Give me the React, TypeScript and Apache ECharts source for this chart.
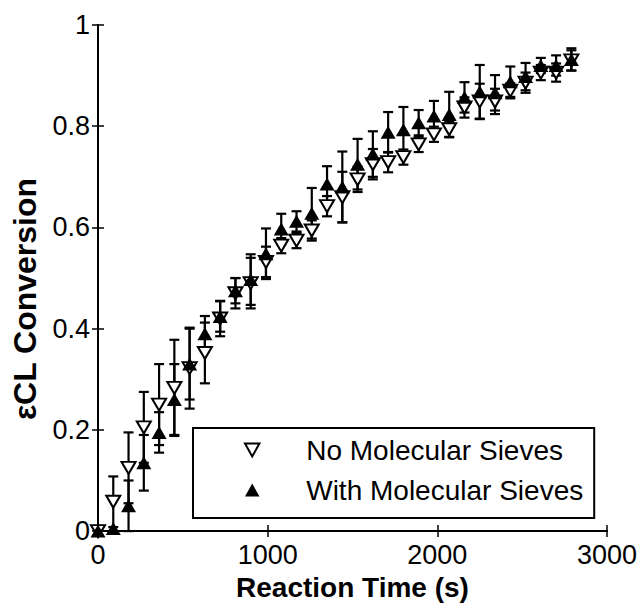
import React, { useEffect, useRef } from "react";
import * as echarts from "echarts";

const times = [0, 90, 180, 270, 360, 450, 540, 630, 720, 810, 900, 990, 1080, 1170, 1260, 1350, 1440, 1530, 1620, 1710, 1800, 1890, 1980, 2070, 2160, 2250, 2340, 2430, 2520, 2610, 2700, 2790];

const noSieves = [0, 0.058, 0.125, 0.205, 0.25, 0.283, 0.322, 0.352, 0.42, 0.47, 0.49, 0.532, 0.564, 0.574, 0.594, 0.642, 0.66, 0.695, 0.725, 0.729, 0.739, 0.764, 0.784, 0.794, 0.837, 0.849, 0.849, 0.87, 0.886, 0.906, 0.906, 0.93];
const noSievesErr = [0, 0.05, 0.07, 0.07, 0.08, 0.095, 0.08, 0.06, 0.035, 0.03, 0.05, 0.03, 0.015, 0.015, 0.02, 0.02, 0.05, 0.025, 0.03, 0.02, 0.015, 0.015, 0.015, 0.015, 0.02, 0.035, 0.025, 0.015, 0.02, 0.015, 0.018, 0.02];

const withSieves = [0, 0.005, 0.05, 0.135, 0.195, 0.26, 0.33, 0.39, 0.424, 0.475, 0.497, 0.548, 0.597, 0.612, 0.628, 0.686, 0.68, 0.725, 0.745, 0.788, 0.793, 0.807, 0.82, 0.823, 0.857, 0.868, 0.866, 0.888, 0.898, 0.92, 0.92, 0.932];
const withSievesErr = [0, 0, 0.05, 0.055, 0.04, 0.07, 0.07, 0.035, 0.03, 0.025, 0.05, 0.05, 0.03, 0.02, 0.05, 0.035, 0.07, 0.05, 0.045, 0.04, 0.045, 0.025, 0.03, 0.045, 0.03, 0.053, 0.035, 0.03, 0.027, 0.015, 0.02, 0.022];

const xTicks = { min: 0, max: 3000, interval: 1000 };
const yTicks = { min: 0, max: 1, interval: 0.2 };

const seriesNames = ["No Molecular Sieves", "With Molecular Sieves"];
const xTitle = "Reaction Time (s)";
const yTitle = "εCL Conversion";

const FONT = "'Liberation Sans', Arial, Helvetica, sans-serif";
const DOWN_TRI = "path://M0,0 L10,0 L5,9 Z";
const UP_TRI = "path://M5,0 L10,9 L0,9 Z";

function errData(vals: number[], errs: number[]) {
  return times.map((t, i) => [t, vals[i] - errs[i], vals[i] + errs[i], errs[i]]);
}

function renderErr(params: any, api: any) {
  const e = api.value(3);
  if (!e) return null;
  const x = api.value(0);
  const top = api.coord([x, api.value(2)]);
  const bot = api.coord([x, api.value(1)]);
  const hw = 5;
  const st = { stroke: "#000", lineWidth: 2.2 };
  return {
    type: "group",
    children: [
      { type: "line", shape: { x1: top[0], y1: top[1], x2: bot[0], y2: bot[1] }, style: st },
      { type: "line", shape: { x1: top[0] - hw, y1: top[1], x2: top[0] + hw, y2: top[1] }, style: st },
      { type: "line", shape: { x1: bot[0] - hw, y1: bot[1], x2: bot[0] + hw, y2: bot[1] }, style: st },
    ],
  };
}

export default function App() {
  const ref = useRef<HTMLDivElement>(null);
  useEffect(() => {
    if (!ref.current) return;
    const chart = echarts.init(ref.current, null, { renderer: "svg" });
    const axisLine = { show: true, lineStyle: { color: "#000", width: 2 } };
    const tick = { show: true, inside: true, length: 6, lineStyle: { color: "#000", width: 1.5 } };
    const fmt = (v: number) => String(v);
    const option: any = {
      animation: false,
      backgroundColor: "#fff",
      textStyle: { fontFamily: FONT },
      grid: { left: 98, right: 34, top: 25, bottom: 73 },
      xAxis: [
        {
          type: "value",
          ...xTicks,
          position: "bottom",
          axisLine,
          axisTick: tick,
          splitLine: { show: false },
          axisLabel: { color: "#000", fontSize: 27, fontFamily: FONT, margin: 10, formatter: fmt },
          name: xTitle,
          nameLocation: "middle",
          nameGap: 41,
          nameTextStyle: { color: "#000", fontSize: 28, fontWeight: "bold", fontFamily: FONT },
        },
        {
          type: "value",
          ...xTicks,
          position: "top",
          axisLine,
          axisTick: tick,
          splitLine: { show: false },
          axisLabel: { show: false },
        },
      ],
      yAxis: [
        {
          type: "value",
          ...yTicks,
          position: "left",
          axisLine,
          axisTick: tick,
          splitLine: { show: false },
          axisLabel: { color: "#000", fontSize: 27, fontFamily: FONT, margin: 8, formatter: fmt },
        },
        {
          type: "value",
          ...yTicks,
          position: "right",
          axisLine,
          axisTick: tick,
          splitLine: { show: false },
          axisLabel: { show: false },
        },
      ],
      graphic: [
        {
          type: "text",
          x: 25,
          y: 299,
          rotation: Math.PI / 2,
          style: {
            text: yTitle,
            font: `bold 32px ${FONT}`,
            fill: "#000",
            textAlign: "center",
            textVerticalAlign: "middle",
          },
        },
      ],
      legend: {
        data: [
          { name: seriesNames[0], icon: DOWN_TRI, itemStyle: { color: "#fff", borderColor: "#000", borderWidth: 2 } },
          { name: seriesNames[1], icon: UP_TRI, itemStyle: { color: "#000", borderColor: "#000", borderWidth: 0 } },
        ],
        orient: "vertical",
        left: 193,
        top: 428,
        padding: [8, 11, 14, 51],
        itemGap: 12,
        itemWidth: 16,
        itemHeight: 13,
        backgroundColor: "#fff",
        borderColor: "#000",
        borderWidth: 2,
        borderRadius: 0,
        textStyle: { color: "#000", fontSize: 28, fontFamily: FONT, padding: [0, 0, 0, 41] },
      },
      series: [
        {
          name: "err-no",
          type: "custom",
          renderItem: renderErr,
          encode: { x: 0, y: [1, 2] },
          data: errData(noSieves, noSievesErr),
          z: 2,
        },
        {
          name: "err-with",
          type: "custom",
          renderItem: renderErr,
          encode: { x: 0, y: [1, 2] },
          data: errData(withSieves, withSievesErr),
          z: 2,
        },
        {
          name: seriesNames[0],
          type: "scatter",
          data: times.map((t, i) => [t, noSieves[i]]),
          symbol: "triangle",
          symbolRotate: 180,
          symbolSize: [14, 12],
          itemStyle: { color: "#fff", borderColor: "#000", borderWidth: 2, opacity: 1 },
          z: 3,
        },
        {
          name: seriesNames[1],
          type: "scatter",
          data: times.map((t, i) => [t, withSieves[i]]),
          symbol: "triangle",
          symbolSize: [15, 13],
          itemStyle: { color: "#000", borderColor: "#000", borderWidth: 0, opacity: 1 },
          z: 4,
        },
      ],
    };
    chart.setOption(option);
    return () => chart.dispose();
  }, []);
  return (
    <div
      ref={ref}
      style={{ position: "fixed", left: 0, top: 0, width: 641, height: 606, background: "#fff" }}
    />
  );
}
